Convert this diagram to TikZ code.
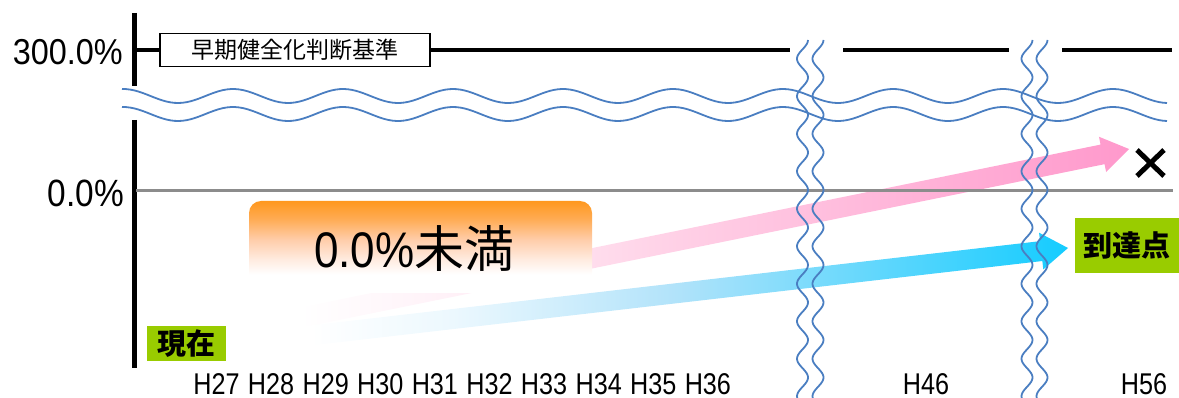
\documentclass[tikz,border=0pt]{standalone}
\usepackage{fontspec}
\setmainfont{Liberation Sans}
\newfontfamily\latnA[FakeStretch=0.9]{Liberation Sans}
\newfontfamily\latnB[FakeStretch=0.84]{Liberation Sans}
\newfontfamily\latnC[FakeStretch=0.88]{Liberation Sans}
\newfontfamily\cjk{Noto Sans CJK JP}
\usetikzlibrary{calc}
\definecolor{wavec}{RGB}{74,126,193}
\definecolor{zeroc}{RGB}{140,140,140}
\definecolor{pinkc}{RGB}{255,153,204}
\definecolor{pinkm}{RGB}{255,208,230}
\definecolor{pinkl}{RGB}{255,240,247}
\definecolor{bluec}{RGB}{20,204,255}
\definecolor{bluem}{RGB}{178,227,250}
\definecolor{bluel}{RGB}{236,248,254}
\definecolor{greenc}{RGB}{153,204,0}
\definecolor{orangeA}{RGB}{255,152,30}
\definecolor{orangeB}{RGB}{255,172,85}
\definecolor{orangeC}{RGB}{255,205,170}
\definecolor{orangeD}{RGB}{255,236,225}
\pgfdeclareverticalshading{orangefade}{100bp}{color(0bp)=(white); color(35bp)=(white); color(43bp)=(orangeD); color(54bp)=(orangeC); color(65bp)=(orangeB); color(75bp)=(orangeA); color(100bp)=(orangeA)}
\pgfdeclarehorizontalshading{pinkgrad}{100bp}{color(0bp)=(white); color(29bp)=(white); color(38bp)=(pinkl); color(50bp)=(pinkm); color(75bp)=(pinkc); color(100bp)=(pinkc)}
\pgfdeclarehorizontalshading{bluegrad}{100bp}{color(0bp)=(white); color(27bp)=(white); color(36bp)=(bluel); color(50bp)=(bluem); color(75bp)=(bluec); color(100bp)=(bluec)}
\begin{document}
\begin{tikzpicture}[x=1pt,y=-1pt,
  axisline/.style={line width=5pt,black},
  topline/.style={line width=4pt,black,line cap=butt},
  wave/.style={line width=1.8pt,wavec},
  zeroline/.style={line width=3pt,zeroc},
  judgebox/.style={draw=black,line width=1.4pt,fill=white,minimum width=270pt,minimum height=33pt,inner sep=0pt,font=\cjk\fontsize{23}{26}\selectfont},
  tagbox/.style={fill=greenc,inner sep=0pt,font=\cjk\bfseries\fontsize{29}{32}\selectfont},
  orangebox/.style={shading=orangefade,rounded corners=12pt,minimum width=343pt,minimum height=92pt,inner sep=0pt},
  year/.style={anchor=base,inner sep=0pt,text depth=0pt,font=\latnB\fontsize{30}{34}\selectfont},
  pinkfill/.style={shading=pinkgrad},
  bluefill/.style={shading=bluegrad},
  crossmark/.style={line width=5pt,black,line cap=butt}
]
\useasboundingbox (0,0) rectangle (1179,398);

% vertical axis
\draw[axisline] (134,13) -- (134,86);
\draw[axisline] (134,120) -- (134,368);

% 300% line with box
\node[judgebox] (judge) at (295,50) {早期健全化判断基準};
\coordinate (ax300) at (136,50);
\draw[topline] (ax300) -- (judge.west);
\draw[topline] (judge.east) -- (790,50);
\draw[topline] (843,50) -- (1009,50);
\draw[topline] (1062,50) -- (1172,50);

% horizontal break waves
\draw[wave] plot[domain=122:1167,samples=260,smooth,variable=\x] (\x,{96-7*cos(3.2727*(\x-233))});
\draw[wave] plot[domain=122:1167,samples=260,smooth,variable=\x] (\x,{114-7*cos(3.2727*(\x-233))});

% arrows
\coordinate (ps) at (230,332);
\coordinate (pt) at (1129,149);
\coordinate (pb) at ($(pt)!27pt!(ps)$);
\path[pinkfill] ($(ps)!10pt!90:(pt)$) -- ($(pb)!10pt!-90:(ps)$) -- ($(pb)!18pt!-90:(ps)$) -- (pt) -- ($(pb)!18pt!90:(ps)$) -- ($(pb)!10pt!90:(ps)$) -- ($(ps)!10pt!-90:(pt)$) -- cycle;
\coordinate (bs) at (280,339);
\coordinate (bt) at (1068,248);
\coordinate (bb) at ($(bt)!27pt!(bs)$);
\path[bluefill] ($(bs)!10pt!90:(bt)$) -- ($(bb)!10pt!-90:(bs)$) -- ($(bb)!18.5pt!-90:(bs)$) -- (bt) -- ($(bb)!18.5pt!90:(bs)$) -- ($(bb)!10pt!90:(bs)$) -- ($(bs)!10pt!-90:(bt)$) -- cycle;

% zero line
\coordinate (ax0) at (136,191);
\coordinate (end0) at (1173,191);
\draw[zeroline] (ax0) -- (end0);

% orange box
\node[orangebox] (lt) at (420.5,247) {};
\node[anchor=base west,inner sep=0pt] (lttext) at (314,268) {{\latnC\fontsize{50}{60}\selectfont 0.0\%}{\cjk\fontsize{50}{60}\selectfont 未満}};

% vertical break waves
\foreach \c in {802.5,818,1027,1042}{
  \draw[wave] plot[domain=40:398,samples=200,smooth,variable=\t] ({\c+5.5*cos(9.6*(\t-40))},\t);
}

% axis labels
\node[anchor=base east,inner sep=0pt,font=\latnA\fontsize{36}{40}\selectfont] (l300) at (123,65) {300.0\%};
\node[anchor=base east,inner sep=0pt,font=\latnC\fontsize{38}{42}\selectfont] (l0) at (124,207) {0.0\%};

% tags
\node[tagbox,minimum width=79pt,minimum height=35pt] (now) at (186.5,343.5) {現在};
\node[tagbox,minimum width=104pt,minimum height=55pt] (goal) at (1127,245.5) {到達点};

% cross
\draw[crossmark] (1137,150) -- (1164,176);
\draw[crossmark] (1164,150) -- (1137,176);

% years
\foreach \i [count=\k from 0] in {27,28,29,30,31,32,33,34,35,36}{
  \node[year] (y\i) at ({216.5+54.6*\k},394.5) {H\i};
}
\node[year] (y46) at (926,394.5) {H46};
\node[year] (y56) at (1144,394.5) {H56};
\end{tikzpicture}
\end{document}
